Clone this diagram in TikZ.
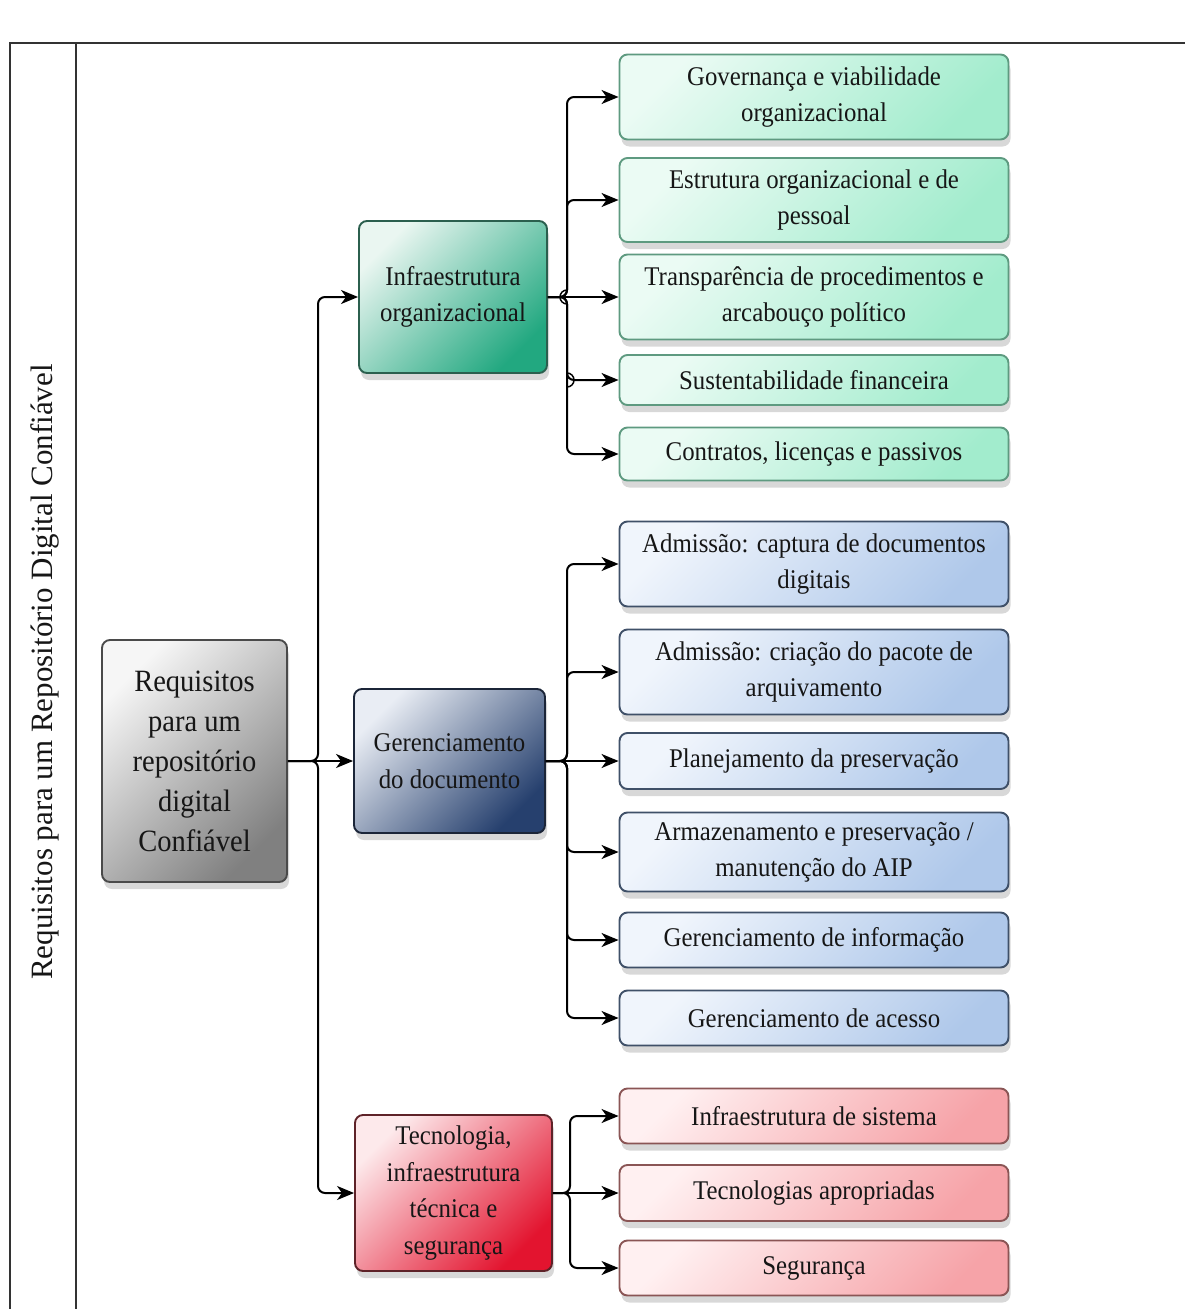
\documentclass[tikz,border=0pt]{standalone}
\usepackage{fontspec}
\setmainfont{Liberation Serif}[FakeStretch=0.92]
\newfontfamily\sidefont{Liberation Serif}
\usetikzlibrary{arrows.meta,shadows}

% fills and borders for the three groups
\definecolor{grLight}{HTML}{EBFBF4}
\definecolor{grMid}{HTML}{D0F6E5}
\definecolor{grDark}{HTML}{A2ECCD}
\definecolor{grLine}{HTML}{5E9A80}
\definecolor{tlLight}{HTML}{EAF6F1}
\definecolor{tlMid}{HTML}{9AD8C3}
\definecolor{tlDark}{HTML}{22A880}
\definecolor{tlLine}{HTML}{2B5F4E}
\definecolor{blLight}{HTML}{F0F5FC}
\definecolor{blMid}{HTML}{D9E5F5}
\definecolor{blDark}{HTML}{AFC8EA}
\definecolor{blLine}{HTML}{3F5068}
\definecolor{nvLight}{HTML}{E9EDF4}
\definecolor{nvMid}{HTML}{A0AEC8}
\definecolor{nvDark}{HTML}{26406E}
\definecolor{nvLine}{HTML}{1B2538}
\definecolor{rdLight}{HTML}{FFF0F1}
\definecolor{rdMid}{HTML}{FCD4D6}
\definecolor{rdDark}{HTML}{F6A3A8}
\definecolor{rdLine}{HTML}{8A5555}
\definecolor{crLight}{HTML}{FDE9EB}
\definecolor{crMid}{HTML}{F6A0A9}
\definecolor{crDark}{HTML}{E3142F}
\definecolor{crLine}{HTML}{5E2228}
\definecolor{gyLight}{HTML}{F6F6F6}
\definecolor{gyMid}{HTML}{CDCDCD}
\definecolor{gyDark}{HTML}{808080}
\definecolor{gyLine}{HTML}{4A4A4A}
\definecolor{ink}{HTML}{161616}

\begin{document}
\begin{tikzpicture}[x=1pt,y=-1pt,
  box/.style={draw, rounded corners=8pt, line width=1.9pt, align=center,
    inner sep=0pt, text=ink,
    drop shadow={shadow xshift=2pt, shadow yshift=-7pt, opacity=0.22, fill=black!70}},
  grad/.style n args={3}{top color=#1, middle color=#2, bottom color=#3, shading angle=45},
  leaf/.style={box, minimum width=389pt, font=\fontsize{27}{36}\selectfont},
  branch/.style={box, font=\fontsize{27}{36.5}\selectfont},
  greenleaf/.style={leaf, draw=grLine, grad={grLight}{grMid}{grDark}},
  blueleaf/.style={leaf, draw=blLine, grad={blLight}{blMid}{blDark}},
  redleaf/.style={leaf, draw=rdLine, grad={rdLight}{rdMid}{rdDark}},
  conn/.style={draw=black, line width=2pt, rounded corners=7pt,
    -{Stealth[length=17pt,width=14pt,inset=5pt]}},
  hop/.style={draw=black, line width=1.5pt},
  frame/.style={draw=black!80, line width=1.6pt}
]
\useasboundingbox (0,0) rectangle (1185,1309);

% page frame with the side column
\draw[frame] (10,1309) -- (10,43) -- (1185,43);
\draw[frame] (76,43) -- (76,1309);
\node[rotate=90, font=\sidefont\fontsize{31}{36}\selectfont, text=ink] (side) at (45,672)
  {Requisitos para um Repositório Digital Confiável};

% root
\node[box, draw=gyLine, grad={gyLight}{gyMid}{gyDark}, minimum width=185pt, minimum height=242pt,
  font=\fontsize{31}{40}\selectfont] (root) at (194.5,761)
  {Requisitos\\para um\\repositório\\digital\\Confiável};

% second level
\node[branch, draw=tlLine, grad={tlLight}{tlMid}{tlDark}, minimum width=188pt, minimum height=152pt]
  (infra) at (453,297) {Infraestrutura\\organizacional};
\node[branch, draw=nvLine, grad={nvLight}{nvMid}{nvDark}, minimum width=191pt, minimum height=144pt]
  (doc) at (449.5,761) {Gerenciamento\\do documento};
\node[branch, draw=crLine, grad={crLight}{crMid}{crDark}, minimum width=197pt, minimum height=156pt]
  (tec) at (453.5,1193) {Tecnologia,\\infraestrutura\\técnica e\\segurança};

% organisational leaves
\node[greenleaf, minimum height=85pt] (g1) at (814,97) {Governança e viabilidade\\organizacional};
\node[greenleaf, minimum height=84pt] (g2) at (814,200) {Estrutura organizacional e de\\pessoal};
\node[greenleaf, minimum height=85pt] (g3) at (814,297) {Transparência de procedimentos e\\arcabouço político};
\node[greenleaf, minimum height=50pt] (g4) at (814,380) {Sustentabilidade financeira};
\node[greenleaf, minimum height=53pt] (g5) at (814,454) {Contratos, licenças e passivos};

% document management leaves
\node[blueleaf, minimum height=85pt] (b1) at (814,564) {Admissão: captura de documentos\\digitais};
\node[blueleaf, minimum height=85pt] (b2) at (814,672) {Admissão: criação do pacote de\\arquivamento};
\node[blueleaf, minimum height=56pt] (b3) at (814,761) {Planejamento da preservação};
\node[blueleaf, minimum height=79pt] (b4) at (814,852) {Armazenamento e preservação /\\manutenção do AIP};
\node[blueleaf, minimum height=55pt] (b5) at (814,940) {Gerenciamento de informação};
\node[blueleaf, minimum height=55pt] (b6) at (814,1018) {Gerenciamento de acesso};

% technology leaves
\node[redleaf, minimum height=55pt] (r1) at (814,1116) {Infraestrutura de sistema};
\node[redleaf, minimum height=56pt] (r2) at (814,1193) {Tecnologias apropriadas};
\node[redleaf, minimum height=55pt] (r3) at (814,1268) {Segurança};

% bus points
\coordinate (busR) at (318,761);
\coordinate (busI) at (567,297);
\coordinate (busD) at (567,761);
\coordinate (busT) at (570,1193);

% root to second level
\draw[conn] (root.east) -- (busR) |- (infra.west);
\draw[conn] (root.east) -- (doc.west);
\draw[conn] (root.east) -- (busR) |- (tec.west);

% organisational branch
\draw[conn] (infra.east) -- (busI) |- (g1.west);
\draw[conn] (infra.east) -- (busI) |- (g2.west);
\draw[conn] (infra.east) -- (g3.west);
\draw[conn] (infra.east) -- (busI) |- (g4.west);
\draw[conn] (infra.east) -- (busI) |- (g5.west);
% line jumps on the vertical run
\draw[hop] (567,290) arc[start angle=90, end angle=270, radius=7pt];
\draw[hop] (567,387) arc[start angle=-90, end angle=90, radius=7pt];

% document management branch
\draw[conn] (doc.east) -- (busD) |- (b1.west);
\draw[conn] (doc.east) -- (busD) |- (b2.west);
\draw[conn] (doc.east) -- (b3.west);
\draw[conn] (doc.east) -- (busD) |- (b4.west);
\draw[conn] (doc.east) -- (busD) |- (b5.west);
\draw[conn] (doc.east) -- (busD) |- (b6.west);

% technology branch
\draw[conn] (tec.east) -- (busT) |- (r1.west);
\draw[conn] (tec.east) -- (r2.west);
\draw[conn] (tec.east) -- (busT) |- (r3.west);
\end{tikzpicture}
\end{document}
